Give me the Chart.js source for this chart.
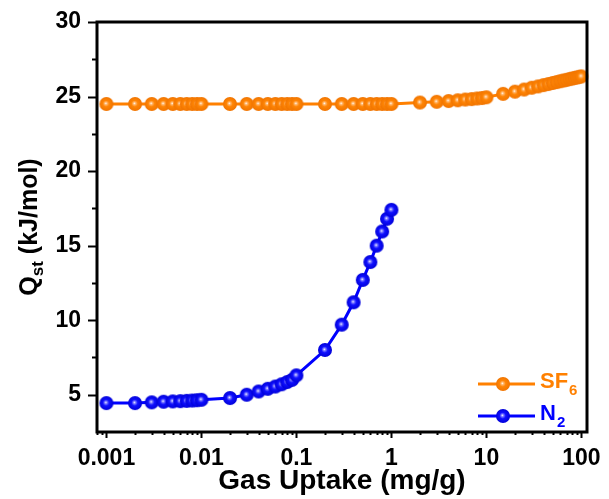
<!DOCTYPE html>
<html>
<head>
<meta charset="utf-8">
<script src="https://cdn.jsdelivr.net/npm/chart.js@4.4.1/dist/chart.umd.min.js"></script>
<style>
  body { margin: 0; background: #fff; }
  canvas { display: block; }
</style>
</head>
<body>
<canvas id="chart" width="609" height="499"></canvas>
<script>
// Gas uptake (mg/g) and Qst (kJ/mol)
const sf6X = [0.001, 0.002, 0.003, 0.004, 0.005, 0.006, 0.007, 0.008, 0.009, 0.01,
  0.02, 0.03, 0.04, 0.05, 0.06, 0.07, 0.08, 0.09, 0.1,
  0.2, 0.3, 0.4, 0.5, 0.6, 0.7, 0.8, 0.9, 1,
  2, 3, 4, 5, 6, 7, 8, 9, 10,
  15, 20, 25, 30, 35, 40, 45, 50, 55, 60, 65, 70, 75, 80, 85, 90, 95, 100];
const sf6Y = [24.5, 24.5, 24.5, 24.5, 24.5, 24.5, 24.5, 24.5, 24.5, 24.5,
  24.5, 24.5, 24.5, 24.5, 24.5, 24.5, 24.5, 24.5, 24.5,
  24.5, 24.5, 24.5, 24.5, 24.5, 24.5, 24.5, 24.5, 24.5,
  24.6, 24.65, 24.7, 24.75, 24.8, 24.83, 24.87, 24.9, 24.95,
  25.18, 25.33, 25.47, 25.59, 25.68, 25.77, 25.84, 25.91, 25.97, 26.03, 26.08, 26.12, 26.17, 26.21, 26.25, 26.28, 26.32, 26.35];

const n2X = [0.001, 0.002, 0.003, 0.004, 0.005, 0.006, 0.007, 0.008, 0.009, 0.01,
  0.02, 0.03, 0.04, 0.05, 0.06, 0.07, 0.08, 0.09, 0.1,
  0.2, 0.3, 0.4, 0.5, 0.6, 0.7, 0.8, 0.9, 1];
const n2Y = [4.44, 4.44, 4.49, 4.53, 4.55, 4.57, 4.59, 4.61, 4.63, 4.66,
  4.78, 5.0, 5.22, 5.4, 5.55, 5.7, 5.85, 6.0, 6.3,
  8.0, 9.7, 11.2, 12.7, 13.9, 15.0, 15.95, 16.8, 17.4];

const xTickValues = [0.001, 0.01, 0.1, 1, 10, 100];
const yTickValues = [5, 10, 15, 20, 25, 30];

const ORANGE = '#ff8000';
const BLUE = '#0000ff';
const FONT = '"Liberation Sans", Arial, sans-serif';

// little shaded ball used as the point marker
function makeBall(light, mid, dark) {
  const c = document.createElement('canvas');
  c.width = 16; c.height = 16;
  const g = c.getContext('2d');
  const grad = g.createRadialGradient(7.3, 7.3, 0, 8, 8, 7);
  grad.addColorStop(0, '#ffffff');
  grad.addColorStop(0.18, light);
  grad.addColorStop(0.45, mid);
  grad.addColorStop(1, dark);
  g.fillStyle = grad;
  g.beginPath();
  g.arc(8, 8, 7, 0, Math.PI * 2);
  g.fill();
  return c;
}
const ballOrange = makeBall('#ffb870', '#ff8505', '#f07400');
const ballBlue = makeBall('#8080ff', '#1010ff', '#0000d8');

function toPoints(xs, ys) {
  return xs.map((x, i) => ({ x: x, y: ys[i] }));
}

// frame, tick marks, y title and legend
const decorPlugin = {
  id: 'decor',
  afterDraw(chart) {
    const ctx = chart.ctx;
    const a = chart.chartArea;
    const xs = chart.scales.x;
    const ys = chart.scales.y;
    ctx.save();
    ctx.strokeStyle = '#000';
    ctx.lineWidth = 2;
    // x ticks (log, minor 2..9)
    for (let d = -4; d <= 2; d++) {
      for (let k = 1; k <= 9; k++) {
        const v = k * Math.pow(10, d);
        if (v < xs.min || v > xs.max) continue;
        const px = Math.round(xs.getPixelForValue(v)) + 0.5;
        const len = k === 1 ? 6 : 3;
        ctx.beginPath();
        ctx.moveTo(px, a.bottom);
        ctx.lineTo(px, a.bottom + len);
        ctx.stroke();
      }
    }
    // y ticks
    for (let v = 5; v <= 30; v += 2.5) {
      const py = Math.round(ys.getPixelForValue(v)) + 0.5;
      const len = v % 5 === 0 ? 9 : 5;
      ctx.beginPath();
      ctx.moveTo(a.left, py);
      ctx.lineTo(a.left - len, py);
      ctx.stroke();
    }
    // box
    ctx.lineWidth = 3;
    ctx.strokeRect(a.left, a.top, a.right - a.left, a.bottom - a.top);

    // y title with subscript
    ctx.fillStyle = '#000';
    ctx.textBaseline = 'alphabetic';
    const big = 'bold 25px ' + FONT;
    const small = 'bold 17px ' + FONT;
    ctx.font = big;
    const wQ = ctx.measureText('Q').width;
    const wRest = ctx.measureText(' (kJ/mol)').width;
    ctx.font = small;
    const wSt = ctx.measureText('st').width;
    const total = wQ + wSt + wRest;
    ctx.translate(37, (a.top + a.bottom) / 2);
    ctx.rotate(-Math.PI / 2);
    let tx = -total / 2;
    ctx.font = big;
    ctx.fillText('Q', tx, 0);
    tx += wQ;
    ctx.font = small;
    ctx.fillText('st', tx, 6);
    tx += wSt;
    ctx.font = big;
    ctx.fillText(' (kJ/mol)', tx, 0);
    ctx.setTransform(1, 0, 0, 1, 0, 0);

    // legend
    const rows = [
      { name: 'SF', sub: '6', color: ORANGE, ball: ballOrange, y: 384 },
      { name: 'N', sub: '2', color: BLUE, ball: ballBlue, y: 416 }
    ];
    rows.forEach(r => {
      ctx.strokeStyle = r.color;
      ctx.lineWidth = 3;
      ctx.beginPath();
      ctx.moveTo(478, r.y);
      ctx.lineTo(535, r.y);
      ctx.stroke();
      ctx.drawImage(r.ball, 503 - 8, r.y - 8);
      ctx.fillStyle = r.color;
      ctx.font = 'bold 22px ' + FONT;
      ctx.fillText(r.name, 540, r.y + 4);
      const w = ctx.measureText(r.name).width;
      ctx.font = 'bold 15px ' + FONT;
      ctx.fillText(r.sub, 540 + w + 1, r.y + 11);
    });
    ctx.restore();
  }
};

new Chart(document.getElementById('chart').getContext('2d'), {
  type: 'line',
  data: {
    datasets: [{
      label: 'SF6',
      data: toPoints(sf6X, sf6Y),
      borderColor: ORANGE,
      borderWidth: 3,
      pointStyle: ballOrange,
      pointRadius: 7,
      fill: false,
      tension: 0
    }, {
      label: 'N2',
      data: toPoints(n2X, n2Y),
      borderColor: BLUE,
      borderWidth: 3,
      pointStyle: ballBlue,
      pointRadius: 7,
      fill: false,
      tension: 0
    }]
  },
  options: {
    responsive: false,
    animation: false,
    clip: false,
    layout: { padding: { left: 0, top: 22, right: 22, bottom: 0 } },
    plugins: {
      legend: { display: false },
      tooltip: { enabled: false }
    },
    scales: {
      x: {
        type: 'logarithmic',
        min: 0.000796,
        max: 114.6,
        bounds: 'data',
        grid: { display: false, drawTicks: false },
        border: { display: false },
        afterBuildTicks: s => { s.ticks = xTickValues.map(v => ({ value: v, major: true })); },
        afterFit: s => { s.height = 67; s.paddingLeft = 0; s.paddingRight = 0; },
        ticks: {
          autoSkip: false,
          maxRotation: 0,
          padding: 13,
          color: '#000',
          font: { family: FONT, size: 23, weight: 'bold' },
          callback: v => String(v)
        },
        title: {
          display: true,
          text: 'Gas Uptake (mg/g)',
          color: '#000',
          padding: { top: 0, bottom: 1 },
          font: { family: FONT, size: 28, weight: 'bold' }
        }
      },
      y: {
        min: 2.5,
        max: 30,
        bounds: 'data',
        grid: { display: false, drawTicks: false },
        border: { display: false },
        afterBuildTicks: s => { s.ticks = yTickValues.map(v => ({ value: v })); },
        afterFit: s => { s.width = 97; s.paddingTop = 0; s.paddingBottom = 0; },
        ticks: {
          padding: 16,
          color: '#000',
          font: { family: FONT, size: 23, weight: 'bold' }
        }
      }
    }
  },
  plugins: [decorPlugin]
});
</script>
</body>
</html>
